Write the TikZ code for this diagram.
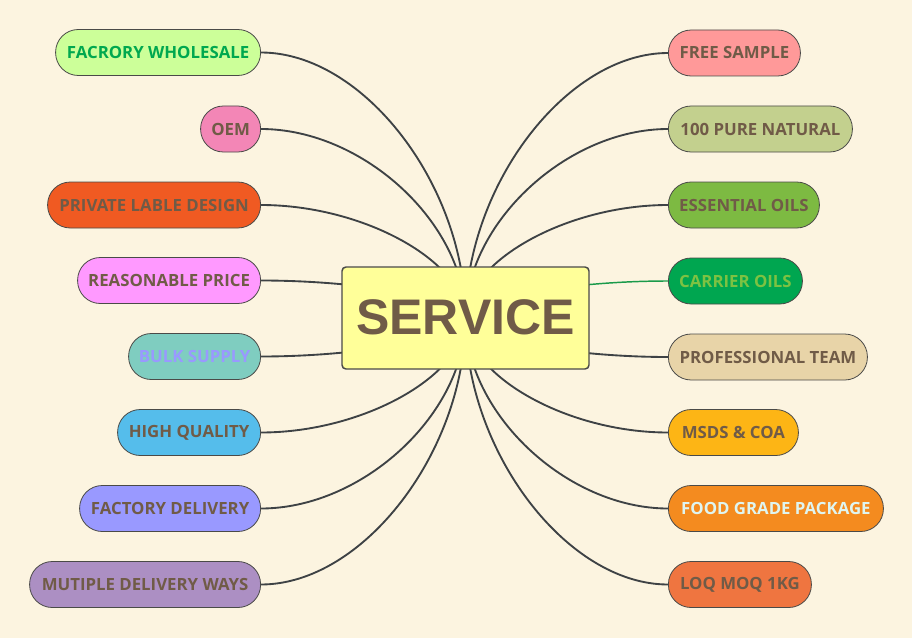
\documentclass[tikz,border=0pt]{standalone}
\usepackage{fontspec}
\usetikzlibrary{calc}
\newfontfamily\leaffont{Open Sans}
\newfontfamily\centerfont{Liberation Sans}
\pgfdeclarelayer{paper}
\pgfdeclarelayer{edges}
\pgfsetlayers{paper,edges,main}
\definecolor{bg}{HTML}{FCF4E0}
\definecolor{edge}{HTML}{3E4245}
\definecolor{bord}{HTML}{4A4A48}
\definecolor{txt}{HTML}{705B47}
\definecolor{cHub}{HTML}{FFFF99}
\definecolor{cFW}{HTML}{CCFF99}\definecolor{tFW}{HTML}{00A84F}
\definecolor{cOEM}{HTML}{F386B6}
\definecolor{cPLD}{HTML}{F05A22}
\definecolor{cRP}{HTML}{FF99FF}
\definecolor{cBS}{HTML}{7FCDC0}\definecolor{tBS}{HTML}{9999FF}
\definecolor{cHQ}{HTML}{55BDEB}
\definecolor{cFD}{HTML}{9999FF}
\definecolor{cMDW}{HTML}{AC8FC3}
\definecolor{cFS}{HTML}{FF9999}
\definecolor{cPN}{HTML}{C3D08E}
\definecolor{cEO}{HTML}{7DBA42}
\definecolor{cCO}{HTML}{00A650}\definecolor{tCO}{HTML}{7DC242}\definecolor{eCO}{HTML}{1A9A4A}
\definecolor{cPT}{HTML}{E8D4A8}
\definecolor{cMC}{HTML}{FDB515}
\definecolor{cFGP}{HTML}{F48B1F}\definecolor{tFGP}{HTML}{DFF5F0}
\definecolor{cLMK}{HTML}{EF7540}
\begin{document}
\begin{tikzpicture}[x=0.75pt,y=-0.75pt,
  leaf/.style={draw=bord, line width=0.6pt, rectangle, rounded corners=17pt,
    minimum height=34.5pt, inner xsep=1pt, inner ysep=0pt,
    font=\leaffont\bfseries\fontsize{12.6}{14}\selectfont, text=txt},
  lnode/.style={leaf, anchor=east},
  rnode/.style={leaf, anchor=west},
  conn/.style={draw=edge, line width=1.4pt,
    to path={.. controls ($(\tikztostart)!0.5!(\tikztostart -| \tikztotarget)$)
      and ($(\tikztotarget)!0.5!(\tikztotarget |- \tikztostart)$) .. (\tikztotarget)}},
  hub/.style={draw=bord, line width=1.1pt, rectangle, rounded corners=3pt, fill=cHub,
    minimum width=185.25pt, minimum height=76.5pt, text=txt,
    font=\centerfont\bfseries\fontsize{37.5}{40}\selectfont}]
\begin{pgfonlayer}{paper}
\fill[bg] (0,0) rectangle (912,638);
\end{pgfonlayer}
\useasboundingbox (0,0) rectangle (912,638);

\node[hub] (c) at (465.5,318) {\raisebox{2pt}{SERVICE}};

\node[lnode, fill=cFW, text=tFW, minimum width=153.75pt] (fw) at (261,52.5) {FACRORY WHOLESALE};
\node[lnode, fill=cOEM, minimum width=45pt] (oem) at (261,129) {OEM};
\node[lnode, fill=cPLD, minimum width=159.75pt] (pld) at (261,205) {PRIVATE LABLE DESIGN};
\node[lnode, fill=cRP, minimum width=137.25pt] (rp) at (261,280.5) {REASONABLE PRICE};
\node[lnode, fill=cBS, text=tBS, minimum width=99pt] (bs) at (261,356.5) {BULK SUPPLY};
\node[lnode, fill=cHQ, minimum width=107.25pt] (hq) at (261,432.5) {HIGH QUALITY};
\node[lnode, fill=cFD, minimum width=135.75pt] (fd) at (261,508.5) {FACTORY DELIVERY};
\node[lnode, fill=cMDW, minimum width=173.25pt] (mdw) at (261,584.5) {MUTIPLE DELIVERY WAYS};

\node[rnode, fill=cFS, minimum width=99pt] (fs) at (668,53) {FREE SAMPLE};
\node[rnode, fill=cPN, minimum width=138pt] (pn) at (668,129) {100 PURE NATURAL};
\node[rnode, fill=cEO, minimum width=113.25pt] (eo) at (668,205) {ESSENTIAL OILS};
\node[rnode, fill=cCO, text=tCO, minimum width=100.5pt] (co) at (668,281) {CARRIER OILS};
\node[rnode, fill=cPT, minimum width=149.25pt] (pt) at (668,357) {PROFESSIONAL TEAM};
\node[rnode, fill=cMC, minimum width=97.5pt] (mc) at (668,432.5) {MSDS \& COA};
\node[rnode, fill=cFGP, text=tFGP, minimum width=161.25pt] (fgp) at (668,508.5) {FOOD GRADE PACKAGE};
\node[rnode, fill=cLMK, minimum width=107.25pt] (lmk) at (668,584.5) {LOQ MOQ 1KG};

\begin{pgfonlayer}{edges}
\draw[conn] (fw.east) to (c.center);
\draw[conn] (oem.east) to (c.center);
\draw[conn] (pld.east) to (c.center);
\draw[conn] (rp.east) to (c.center);
\draw[conn] (bs.east) to (c.center);
\draw[conn] (hq.east) to (c.center);
\draw[conn] (fd.east) to (c.center);
\draw[conn] (mdw.east) to (c.center);
\draw[conn] (fs.west) to (c.center);
\draw[conn] (pn.west) to (c.center);
\draw[conn] (eo.west) to (c.center);
\draw[conn, draw=eCO, line width=1.1pt] (co.west) to (c.center);
\draw[conn] (pt.west) to (c.center);
\draw[conn] (mc.west) to (c.center);
\draw[conn] (fgp.west) to (c.center);
\draw[conn] (lmk.west) to (c.center);
\end{pgfonlayer}
\end{tikzpicture}
\end{document}
